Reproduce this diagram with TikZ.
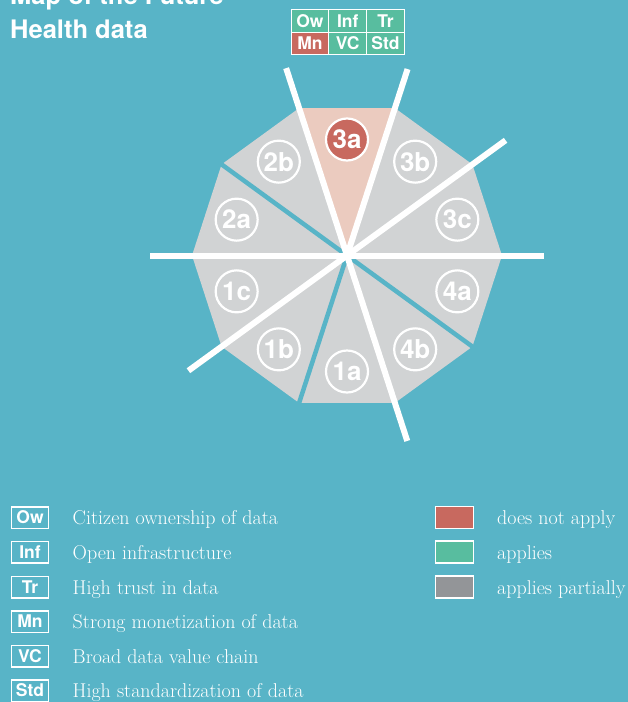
\documentclass[tikz,border=0pt]{standalone}
\usepackage{fontspec}
\newfontfamily\hv{TeX Gyre Heros}
\definecolor{bg}{HTML}{58B4C7}
\definecolor{dgray}{HTML}{D1D3D4}
\definecolor{pink}{HTML}{EBCBBF}
\definecolor{red}{HTML}{C8695F}
\definecolor{grn}{HTML}{58BD9F}
\definecolor{mgray}{HTML}{939598}
\tikzset{
  badge/.style={circle, draw=white, line width=2.2pt, minimum size=42pt, inner sep=0pt,
    text=white, font=\hv\bfseries\fontsize{26}{26}\selectfont},
  hcell/.style={draw=white, line width=1pt, minimum width=37.8pt, minimum height=22.5pt,
    inner sep=0pt, text=white, font=\hv\bfseries\fontsize{17.5}{17.5}\selectfont},
  lbox/.style={draw=white, line width=1.5pt, minimum width=37pt, minimum height=21.5pt,
    inner sep=0pt, text=white, font=\hv\bfseries\fontsize{17.5}{17.5}\selectfont},
  swatch/.style={draw=white, line width=1.3pt, minimum width=38pt, minimum height=22pt, inner sep=0pt},
  ltext/.style={anchor=base west, inner sep=0pt, text=white, font=\fontsize{20}{22}\selectfont},
  title/.style={anchor=base west, inner sep=0pt, text=white, font=\hv\bfseries\fontsize{25.5}{25.5}\selectfont},
  wline/.style={draw=white, line width=6pt},
  tline/.style={draw=bg, line width=4.5pt}
}
\begin{document}
\begin{tikzpicture}[x=1pt,y=-1pt]
\useasboundingbox (0,0) rectangle (628,702);
\clip (0,0) rectangle (628,702);
\fill[bg] (0,0) rectangle (628,702);

% title
\node[title] (t1) at (10,4.5) {Map of the Future};
\node[title] (t2) at (10,38) {Health data};

% header table
\node[hcell, fill=grn] (hOw) at (309.9,20.8) {Ow};
\node[hcell, fill=grn] (hInf) at (347.7,20.8) {Inf};
\node[hcell, fill=grn] (hTr) at (385.5,20.8) {Tr};
\node[hcell, fill=red] (hMn) at (309.9,43.3) {Mn};
\node[hcell, fill=grn] (hVC) at (347.7,43.3) {VC};
\node[hcell, fill=grn] (hStd) at (385.5,43.3) {Std};

% decagon
\begin{scope}[shift={(347,255.5)}, y=1pt]
  \coordinate (O) at (0,0);
  \foreach \k in {0,1,3,4,5,6,7,8,9}{
    \fill[dgray] (O) -- (\k*36:155) -- (\k*36+36:155) -- cycle;
  }
  \fill[pink] (O) -- (72:155) -- (108:155) -- cycle;
  % teal gaps
  \coordinate (g1) at (144:160);
  \coordinate (g2) at (252:160);
  \coordinate (g3) at (324:160);
  \draw[tline] (O) -- (g1);
  \draw[tline] (O) -- (g2);
  \draw[tline] (O) -- (g3);
  % white lines
  \coordinate (w0) at (0:197);
  \coordinate (w180) at (180:197);
  \coordinate (w36) at (36:196);
  \coordinate (w216) at (216:196);
  \coordinate (w108) at (108:197);
  \coordinate (w288) at (288:195);
  \coordinate (w72) at (72:196);
  \draw[wline] (w180) -- (w0);
  \draw[wline] (w216) -- (w36);
  \draw[wline] (w288) -- (w108);
  \draw[wline] (O) -- (w72);
  % badges
  \node[badge] (n3c) at (18:116) {3c};
  \node[badge] (n3b) at (54:116) {3b};
  \node[badge, fill=red] (n3a) at (90:116) {3a};
  \node[badge] (n2b) at (126:116) {2b};
  \node[badge] (n2a) at (162:116) {2a};
  \node[badge] (n1c) at (198:116) {1c};
  \node[badge] (n1b) at (234:116) {1b};
  \node[badge] (n1a) at (270:116) {1a};
  \node[badge] (n4b) at (306:116) {4b};
  \node[badge] (n4a) at (342:116) {4a};
\end{scope}

% legend left
\node[lbox] (lOw) at (30,517.5) {Ow};
\node[lbox] (lInf) at (30,552) {Inf};
\node[lbox] (lTr) at (30,587) {Tr};
\node[lbox] (lMn) at (30,621.5) {Mn};
\node[lbox] (lVC) at (30,656) {VC};
\node[lbox] (lStd) at (30,690.5) {Std};
\node[ltext] (xOw) at (72.5,524.5) {Citizen ownership of data};
\node[ltext] (xInf) at (72.5,559) {Open infrastructure};
\node[ltext] (xTr) at (72.5,594) {High trust in data};
\node[ltext] (xMn) at (72.5,628.5) {Strong monetization of data};
\node[ltext] (xVC) at (72.5,663) {Broad data value chain};
\node[ltext] (xStd) at (72.5,697.5) {High standardization of data};

% legend right
\node[swatch, fill=red] (sR) at (454.5,517.5) {};
\node[swatch, fill=grn] (sG) at (454.5,552) {};
\node[swatch, fill=mgray] (sM) at (454.5,587) {};
\node[ltext] (xR) at (497,524.5) {does not apply};
\node[ltext] (xG) at (497,559) {applies};
\node[ltext] (xM) at (497,594) {applies partially};
\end{tikzpicture}
\end{document}
